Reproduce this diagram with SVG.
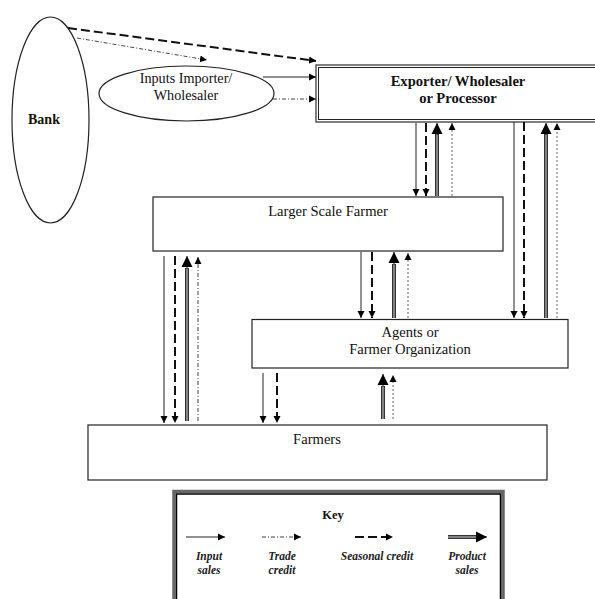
<svg xmlns="http://www.w3.org/2000/svg" width="595" height="599" viewBox="0 0 595 599" font-family="'Liberation Serif', 'DejaVu Serif', serif">
<style>
  text { font-family: 'Liberation Serif', 'DejaVu Serif', serif; fill: #111; }
  .node { fill: #fff; stroke: #222; stroke-width: 1.2; }
  .bold { font-weight: bold; }
  .lbl { font-size: 14.6px; }
  .key { font-size: 11.5px; font-style: italic; font-weight: bold; fill: #222; }
  .input { stroke: #222; stroke-width: 1; fill: none; }
  .trade { stroke: #444; stroke-width: 1; stroke-dasharray: 4 2 1 2; fill: none; }
  .tradeg { stroke: #888; stroke-width: 1.3; stroke-dasharray: 2 2; fill: none; }
  .season { stroke: #111; stroke-width: 2; stroke-dasharray: 9 4; fill: none; }
  .prodo { stroke: #333; stroke-width: 4; fill: none; }
  .prodi { stroke: #bbb; stroke-width: 1.2; fill: none; }
</style>
<defs>
  <marker id="ah" markerUnits="userSpaceOnUse" markerWidth="8" markerHeight="8" refX="7" refY="4" orient="auto">
    <path d="M0,0.5 L7,4 L0,7.5 Z" fill="#000"/>
  </marker>
  <marker id="ahb" markerUnits="userSpaceOnUse" markerWidth="12" markerHeight="12" refX="11" refY="6" orient="auto">
    <path d="M0,0.5 L11,6 L0,11.5 Z" fill="#000"/>
  </marker>
</defs>
<rect width="595" height="599" fill="#fff"/>

<g id="bank">
  <ellipse cx="50.5" cy="120" rx="38.5" ry="103" class="node"/>
  <text x="44" y="124" text-anchor="middle" class="bold" font-size="14">Bank</text>
</g>
<g id="importer">
  <ellipse cx="186.5" cy="93.5" rx="87.5" ry="27.5" class="node"/>
  <text x="186" y="83" text-anchor="middle" font-size="14.2">Inputs Importer/</text>
  <text x="186" y="100" text-anchor="middle" font-size="14.2">Wholesaler</text>
</g>
<g id="exporter">
  <rect x="316" y="65" width="290" height="57" fill="#fff" stroke="#555" stroke-width="1.5"/>
  <rect x="318.5" y="67.5" width="290" height="52" fill="none" stroke="#222" stroke-width="1"/>
  <text x="458" y="86" text-anchor="middle" class="bold" font-size="14.6">Exporter/ Wholesaler</text>
  <text x="458" y="103" text-anchor="middle" class="bold" font-size="14.6">or Processor</text>
</g>
<g id="larger">
  <rect x="153" y="197" width="350" height="54" class="node"/>
  <text x="328" y="216" text-anchor="middle" class="lbl">Larger Scale Farmer</text>
</g>
<g id="agents">
  <rect x="252" y="319.5" width="316" height="48.5" class="node"/>
  <text x="410" y="337" text-anchor="middle" class="lbl">Agents or</text>
  <text x="410" y="354" text-anchor="middle" class="lbl">Farmer Organization</text>
</g>
<g id="farmers">
  <rect x="88" y="425" width="459" height="55" class="node"/>
  <text x="317" y="444" text-anchor="middle" class="lbl" font-size="15">Farmers</text>
</g>

<g id="connectors">
  <line x1="68" y1="28" x2="316" y2="61" class="season" marker-end="url(#ah)"/>
  <line x1="77" y1="38" x2="207" y2="60" class="trade" marker-end="url(#ah)"/>
  <line x1="263" y1="77" x2="316" y2="77" class="input" marker-end="url(#ah)"/>
  <line x1="273" y1="99" x2="316" y2="99" class="trade" marker-end="url(#ah)"/>

  <line x1="416" y1="123" x2="416" y2="196" class="input" marker-end="url(#ah)"/>
  <line x1="426" y1="123" x2="426" y2="196" class="season" marker-end="url(#ah)"/>
  <line x1="437" y1="196" x2="437" y2="134" class="prodo"/>
  <line x1="437" y1="196" x2="437" y2="134" class="prodi"/>
  <line x1="437" y1="135" x2="437" y2="123" class="input" marker-end="url(#ahb)"/>
  <line x1="452" y1="196" x2="452" y2="123" class="tradeg" marker-end="url(#ah)"/>

  <line x1="514" y1="122" x2="514" y2="318" class="input" marker-end="url(#ah)"/>
  <line x1="524" y1="122" x2="524" y2="318" class="season" marker-end="url(#ah)"/>
  <line x1="546" y1="318" x2="546" y2="134" class="prodo"/>
  <line x1="546" y1="318" x2="546" y2="134" class="prodi"/>
  <line x1="546" y1="135" x2="546" y2="123" class="input" marker-end="url(#ahb)"/>
  <line x1="557" y1="318" x2="557" y2="123" class="tradeg" marker-end="url(#ah)"/>

  <line x1="361" y1="252" x2="361" y2="318" class="input" marker-end="url(#ah)"/>
  <line x1="372" y1="252" x2="372" y2="318" class="season" marker-end="url(#ah)"/>
  <line x1="394" y1="318" x2="394" y2="264" class="prodo"/>
  <line x1="394" y1="318" x2="394" y2="264" class="prodi"/>
  <line x1="394" y1="265" x2="394" y2="252" class="input" marker-end="url(#ahb)"/>
  <line x1="408" y1="318" x2="408" y2="253" class="tradeg" marker-end="url(#ah)"/>

  <line x1="164" y1="256" x2="164" y2="423" class="input" marker-end="url(#ah)"/>
  <line x1="175" y1="256" x2="175" y2="423" class="season" marker-end="url(#ah)"/>
  <line x1="187" y1="421" x2="187" y2="268" class="prodo"/>
  <line x1="187" y1="421" x2="187" y2="268" class="prodi"/>
  <line x1="187" y1="269" x2="187" y2="256" class="input" marker-end="url(#ahb)"/>
  <line x1="198" y1="421" x2="198" y2="257" class="trade" marker-end="url(#ah)"/>

  <line x1="263" y1="373" x2="263" y2="423" class="input" marker-end="url(#ah)"/>
  <line x1="277" y1="373" x2="277" y2="423" class="season" marker-end="url(#ah)"/>
  <line x1="383" y1="419" x2="383" y2="386" class="prodo"/>
  <line x1="383" y1="419" x2="383" y2="386" class="prodi"/>
  <line x1="383" y1="387" x2="383" y2="374" class="input" marker-end="url(#ahb)"/>
  <line x1="393" y1="419" x2="393" y2="375" class="tradeg" marker-end="url(#ah)"/>
</g>

<g id="legend">
  <rect x="174" y="491.5" width="329" height="112" fill="#fff" stroke="#666" stroke-width="3.5"/>
  <rect x="176.5" y="494" width="324" height="110" fill="none" stroke="#000" stroke-width="1.5"/>
  <text x="333" y="519" text-anchor="middle" class="bold" font-size="12.5">Key</text>
  <line x1="186" y1="537" x2="225" y2="537" class="input" marker-end="url(#ah)"/>
  <line x1="262" y1="537" x2="301" y2="537" class="trade" marker-end="url(#ah)"/>
  <line x1="355" y1="537" x2="393" y2="537" class="season" marker-end="url(#ah)"/>
  <line x1="448" y1="537" x2="477" y2="537" class="prodo"/>
  <line x1="448" y1="537" x2="477" y2="537" class="prodi"/>
  <line x1="476" y1="537" x2="487" y2="537" class="input" marker-end="url(#ahb)"/>
  <text x="209" y="560" text-anchor="middle" class="key">Input</text>
  <text x="209" y="574" text-anchor="middle" class="key">sales</text>
  <text x="282" y="560" text-anchor="middle" class="key">Trade</text>
  <text x="282" y="574" text-anchor="middle" class="key">credit</text>
  <text x="377" y="560" text-anchor="middle" class="key">Seasonal credit</text>
  <text x="467" y="560" text-anchor="middle" class="key">Product</text>
  <text x="467" y="574" text-anchor="middle" class="key">sales</text>
</g>
</svg>
